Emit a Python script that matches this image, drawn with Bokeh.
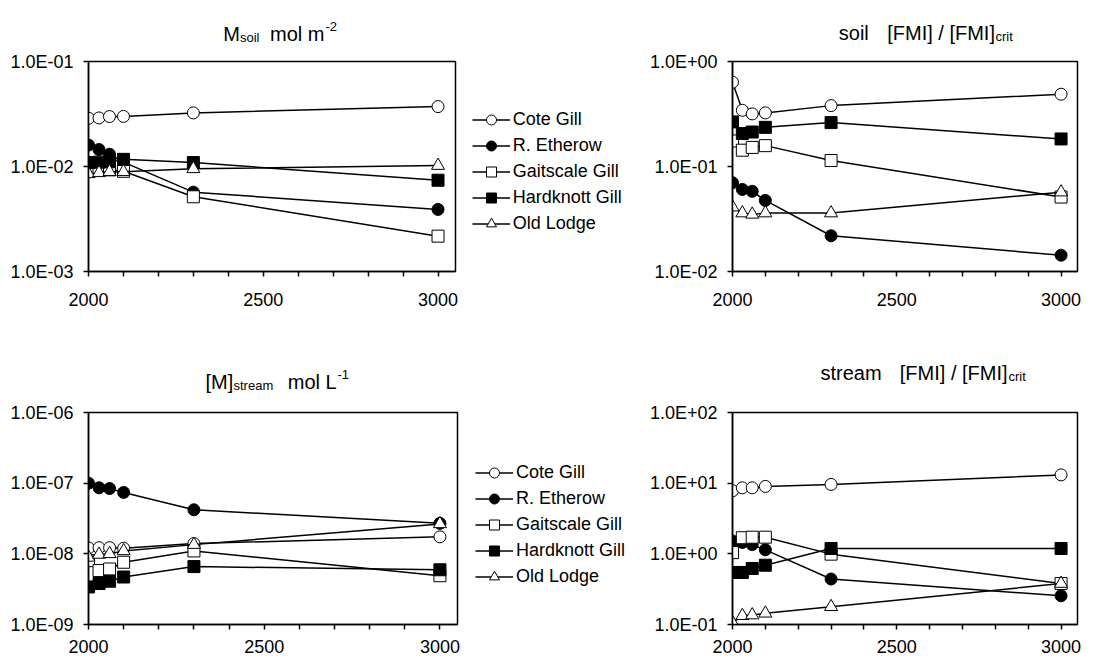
from bokeh.plotting import figure
from bokeh.models import (Range1d, FixedTicker, CustomJSTickFormatter,
                          Legend, LegendItem)
from bokeh.core.properties import value
from bokeh.layouts import column, row
from bokeh.embed import file_html
from bokeh.resources import INLINE

# ---------------- data ----------------
years = [2000, 2030, 2060, 2100, 2300, 3000]
sites = ["Cote Gill", "R. Etherow", "Gaitscale Gill", "Hardknott Gill", "Old Lodge"]

# M_soil  mol m-2
msoil_cote      = [0.0288, 0.0290, 0.0299, 0.0300, 0.0324, 0.0372]
msoil_etherow   = [0.0160, 0.0145, 0.0131, 0.0110, 0.0057, 0.0039]
msoil_gaitscale = [0.0098, 0.0095, 0.0093, 0.0090, 0.00515, 0.00217]
msoil_hardknott = [0.0109, 0.0110, 0.0111, 0.0117, 0.0109, 0.0074]
msoil_oldlodge  = [0.0085, 0.0087, 0.0089, 0.0089, 0.0095, 0.0102]

# soil [FMI]/[FMI]crit
fsoil_cote      = [0.635, 0.343, 0.317, 0.324, 0.380, 0.488]
fsoil_etherow   = [0.0701, 0.0605, 0.0580, 0.0475, 0.0219, 0.0143]
fsoil_gaitscale = [0.175, 0.143, 0.152, 0.158, 0.114, 0.0512]
fsoil_hardknott = [0.266, 0.206, 0.213, 0.236, 0.262, 0.183]
fsoil_oldlodge  = [0.041, 0.036, 0.035, 0.036, 0.036, 0.057]

# [M]stream  mol L-1
mstream_cote      = [1.21e-8, 1.22e-8, 1.22e-8, 1.20e-8, 1.40e-8, 1.74e-8]
mstream_etherow   = [1.00e-7, 8.6e-8, 8.4e-8, 7.4e-8, 4.2e-8, 2.7e-8]
mstream_gaitscale = [8.0e-9, 5.8e-9, 6.1e-9, 7.6e-9, 1.10e-8, 4.9e-9]
mstream_hardknott = [3.4e-9, 3.8e-9, 4.1e-9, 4.7e-9, 6.6e-9, 5.95e-9]
mstream_oldlodge  = [8.9e-9, 9.8e-9, 1.00e-8, 1.10e-8, 1.35e-8, 2.65e-8]

# stream [FMI]/[FMI]crit
fstream_cote      = [7.8, 8.6, 8.6, 9.0, 9.6, 13.1]
fstream_etherow   = [1.52, 1.45, 1.35, 1.14, 0.44, 0.255]
fstream_gaitscale = [1.04, 1.69, 1.72, 1.72, 0.99, 0.38]
fstream_hardknott = [0.545, 0.545, 0.62, 0.69, 1.19, 1.19]
fstream_oldlodge  = [0.106, 0.133, 0.136, 0.144, 0.178, 0.38]

x_major = [2000, 2500, 3000]
x_minor = [2100, 2200, 2300, 2400, 2600, 2700, 2800, 2900]

# title pieces: (text, kind)  kind: n = normal, b = subscript, p = superscript
title_tl = [("M", "n"), ("soil", "b"), ("mol m", "n"), ("-2", "p")]
title_tr = [("soil", "n"), ("[FMI] / [FMI]", "n"), ("crit", "b")]
title_bl = [("[M]", "n"), ("stream", "b"), ("mol L", "n"), ("-1", "p")]
title_br = [("stream", "n"), ("[FMI] / [FMI]", "n"), ("crit", "b")]

FONT = "Liberation Sans"
STYLES = [("circle", "white"), ("circle", "black"), ("square", "white"),
          ("square", "black"), ("triangle", "white")]
SIZES = {"circle": 12, "square": 12, "triangle": 13}
LW = 1.5

YFMT = CustomJSTickFormatter(code="""
const e = Math.round(Math.log10(tick));
const a = Math.abs(e);
return "1.0E" + (e < 0 ? "-" : "+") + (a < 10 ? "0" : "") + a;
""")


def make_title_strip(groups, w, h):
    t = figure(width=w, height=h, x_range=Range1d(0, w), y_range=Range1d(0, h),
               x_axis_location=None, y_axis_location=None, min_border=0,
               output_backend="svg", toolbar_location=None)
    t.outline_line_color = None
    t.grid.visible = False
    for parts, xs, baseline in groups:
        for (txt, kind), x in zip(parts, xs):
            if kind == "n":
                y, fs = baseline, "20px"
            elif kind == "b":
                y, fs = baseline - 3.2, "13px"
            else:
                y, fs = baseline + 7.5, "13px"
            t.text(x=[x], y=[y], text=[txt], text_font=value(FONT),
                   text_font_size=value(fs), text_color="black",
                   text_align="left", text_baseline="alphabetic")
    return t


def make_legend_fig(w, h, mbt, mbb, gx, gy):
    f = figure(width=w, height=h, x_range=Range1d(0, 1), y_range=Range1d(0, 1),
               x_axis_location=None, y_axis_location=None,
               min_border_left=0, min_border_right=0,
               min_border_top=mbt, min_border_bottom=mbb,
               output_backend="svg", toolbar_location=None)
    f.outline_line_color = None
    f.grid.visible = False
    items = []
    # sample renderers for the key only: one point placed outside the visible range
    for name, (mk, fill) in zip(sites, STYLES):
        ln = f.line([5, 6], [5, 6], line_color="black", line_width=LW)
        sc = f.scatter([5], [5], marker=mk, size=SIZES[mk], fill_color=fill,
                       line_color="black", line_width=1)
        items.append(LegendItem(label=name, renderers=[ln, sc]))
    leg = Legend(items=items, location=(gx, gy),
                 padding=0, margin=0, spacing=1, glyph_width=38,
                 glyph_height=25, label_height=25, label_standoff=3,
                 label_text_font=FONT, label_text_font_size="18px",
                 label_text_color="black", border_line_color=None,
                 background_fill_alpha=0)
    f.add_layout(leg)
    return f


def make_panel(series, ylo, yhi, w, h, mbl, mbr, mbt, mbb, xstand):
    p = figure(width=w, height=h, x_range=Range1d(2000, 3050),
               y_range=Range1d(ylo, yhi), y_axis_type="log",
               output_backend="svg", toolbar_location=None,
               min_border_left=mbl, min_border_right=mbr,
               min_border_top=mbt, min_border_bottom=mbb)
    p.xgrid.visible = False
    p.ygrid.visible = False
    p.background_fill_color = "white"
    p.border_fill_color = "white"
    p.outline_line_color = "black"
    p.outline_line_width = 1.5

    xa = p.xaxis[0]
    xa.ticker = FixedTicker(ticks=x_major, minor_ticks=x_minor)
    xa.axis_line_color = "black"
    xa.axis_line_width = 1.5
    xa.major_tick_in = 0
    xa.major_tick_out = 5
    xa.minor_tick_in = 0
    xa.minor_tick_out = 5
    xa.major_tick_line_width = 1.5
    xa.minor_tick_line_width = 1.5
    xa.major_tick_line_color = "black"
    xa.minor_tick_line_color = "black"
    xa.major_label_text_font = FONT
    xa.major_label_text_font_size = "18px"
    xa.major_label_text_color = "black"
    xa.major_label_standoff = xstand

    decs = []
    d = ylo
    while d <= yhi * 1.0001:
        decs.append(d)
        d *= 10
    ya = p.yaxis[0]
    ya.ticker = FixedTicker(ticks=decs, minor_ticks=[])
    ya.formatter = YFMT
    ya.axis_line_color = "black"
    ya.axis_line_width = 1.5
    ya.major_tick_in = 0
    ya.major_tick_out = 5
    ya.minor_tick_out = 0
    ya.minor_tick_in = 0
    ya.major_tick_line_width = 1.5
    ya.major_tick_line_color = "black"
    ya.major_label_text_font = FONT
    ya.major_label_text_font_size = "18px"
    ya.major_label_text_color = "black"
    ya.major_label_standoff = 10

    for vals, (mk, fill) in zip(series, STYLES):
        p.line(years, vals, line_color="black", line_width=LW)
        p.scatter(years, vals, marker=mk, size=SIZES[mk], fill_color=fill,
                  line_color="black", line_width=1)
    return p


# top titles strip: page y 0..45 ; bottom titles strip: page y 330..396
t_top = make_title_strip([(title_tl, [222.7, 239.5, 269.5, 325], 45 - 33.3),
                          (title_tr, [838.3, 886.7, 995], 45 - 32.3)], 1102, 45)
t_bot = make_title_strip([(title_bl, [205, 233, 287.3, 337], 66 - (381.7 - 330)),
                          (title_br, [820, 899.3, 1008], 66 - (372.3 - 330))], 1102, 66)

tl = make_panel([msoil_cote, msoil_etherow, msoil_gaitscale, msoil_hardknott, msoil_oldlodge],
                1e-3, 1e-1, 470, 285, 88, 15, 16, 59, 16)
lg_top = make_legend_fig(170, 285, 16, 59, 1.7, 35.5)
tr = make_panel([fsoil_cote, fsoil_etherow, fsoil_gaitscale, fsoil_hardknott, fsoil_oldlodge],
                1e-2, 1e0, 462, 285, 92, 25, 16, 59, 16)

bl = make_panel([mstream_cote, mstream_etherow, mstream_gaitscale, mstream_hardknott, mstream_oldlodge],
                1e-9, 1e-6, 470, 266, 88, 13, 16, 38, 10)
lg_bot = make_legend_fig(170, 266, 16, 38, 5, 35.2)
br = make_panel([fstream_cote, fstream_etherow, fstream_gaitscale, fstream_hardknott, fstream_oldlodge],
                1e-1, 1e2, 462, 266, 92, 25, 16, 38, 10)

layout = column(t_top, row(tl, lg_top, tr), t_bot, row(bl, lg_bot, br))

with open("out.html", "w") as f:
    f.write(file_html(layout, INLINE))
